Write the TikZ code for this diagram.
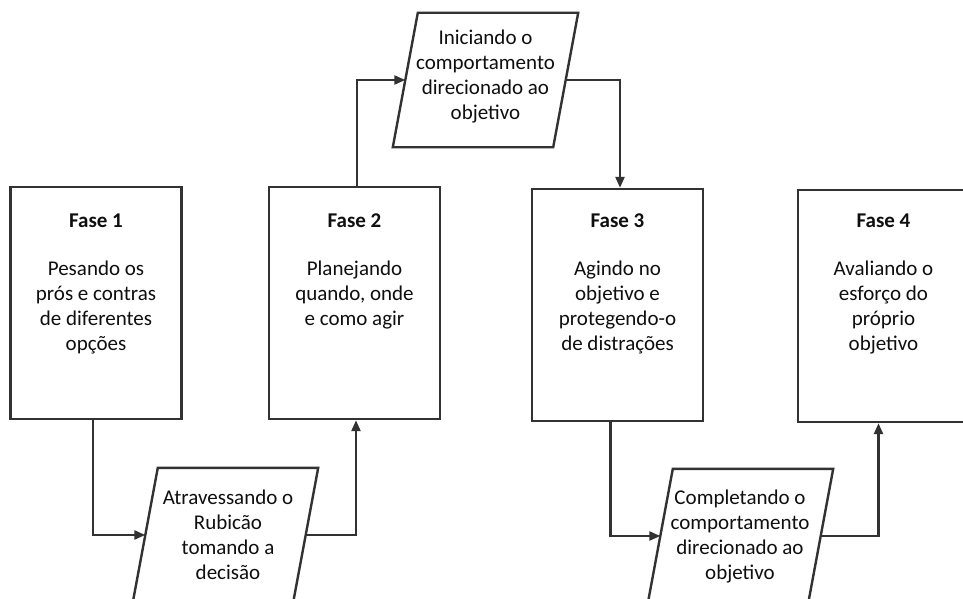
\documentclass[tikz,border=0pt]{standalone}
\usepackage{fontspec}
\setmainfont{Carlito}
\usetikzlibrary{arrows.meta}
\definecolor{linegray}{RGB}{50,50,50}
\definecolor{textgray}{RGB}{15,15,15}
\tikzset{
  phasebox/.style={draw=linegray, line width=2.4pt, minimum width=171pt, minimum height=232pt, inner sep=0pt},
  % invisible frame of a step; its west/east anchors sit on the slanted sides
  stepframe/.style={minimum width=160pt, minimum height=134pt, inner sep=0pt},
  stepline/.style={draw=linegray, line width=2.4pt, line join=miter},
  phasetitle/.style={font=\fontsize{21}{25}\selectfont\bfseries, text=textgray, inner sep=0pt},
  bodytext/.style={font=\fontsize{21}{25}\selectfont, text=textgray, align=center, inner sep=0pt, anchor=north},
  arr/.style={draw=linegray, line width=2.4pt, -{Triangle[length=11pt,width=9pt]}},
}
\newcommand{\slantshape}[1]{%
  \draw[stepline] ([xshift=12.5pt]#1.north west) -- ([xshift=12.5pt]#1.north east)
    -- ([xshift=-12.5pt]#1.south east) -- ([xshift=-12.5pt]#1.south west) -- cycle;}
\begin{document}
\begin{tikzpicture}[x=1pt,y=-1pt]
\clip (0,0) rectangle (963,599);
\fill[white] (0,0) rectangle (963,599);

% four phase boxes
\node[phasebox] (b1) at (96,303) {};
\node[phasebox] (b2) at (354.5,303) {};
\node[phasebox] (b3) at (617.5,305) {};
\node[phasebox] (b4) at (883.5,306) {};

\node[phasetitle] (t1) at (96,221) {Fase 1};
\node[phasetitle] (t2) at (354.5,221) {Fase 2};
\node[phasetitle] (t3) at (617.5,221) {Fase 3};
\node[phasetitle] (t4) at (883.5,221) {Fase 4};

\node[bodytext] (d1) at (96,261) {Pesando os\\prós e contras\\de diferentes\\opções};
\node[bodytext] (d2) at (354.5,261) {Planejando\\quando, onde\\e como agir};
\node[bodytext] (d3) at (617.5,261) {Agindo no\\objetivo e\\protegendo-o\\de distrações};
\node[bodytext] (d4) at (883.5,261) {Avaliando o\\esforço do\\próprio\\objetivo};

% transition steps between phases
\node[stepframe] (p1) at (485.5,80) {};
\node[stepframe] (p2) at (225.5,535) {};
\node[stepframe] (p3) at (740.5,536) {};
\slantshape{p1}
\slantshape{p2}
\slantshape{p3}

\node[bodytext] (s1) at (485.5,30) {Iniciando o\\comportamento\\direcionado ao\\objetivo};
\node[bodytext] (s2) at (228,490) {Atravessando o\\Rubicão\\tomando a\\decisão};
\node[bodytext] (s3) at (740,490) {Completando o\\comportamento\\direcionado ao\\objetivo};

% connectors
\draw[arr] ([xshift=-3pt]b1.south) |- (p2.west);
\draw[arr] (p2.east) -| ([xshift=1.5pt]b2.south);
\draw[arr] ([xshift=2.5pt]b2.north) |- (p1.west);
\draw[arr] (p1.east) -| ([xshift=2.5pt]b3.north);
\draw[arr] ([xshift=-7pt]b3.south) |- (p3.west);
\draw[arr] (p3.east) -| ([xshift=-5pt]b4.south);
\end{tikzpicture}
\end{document}
